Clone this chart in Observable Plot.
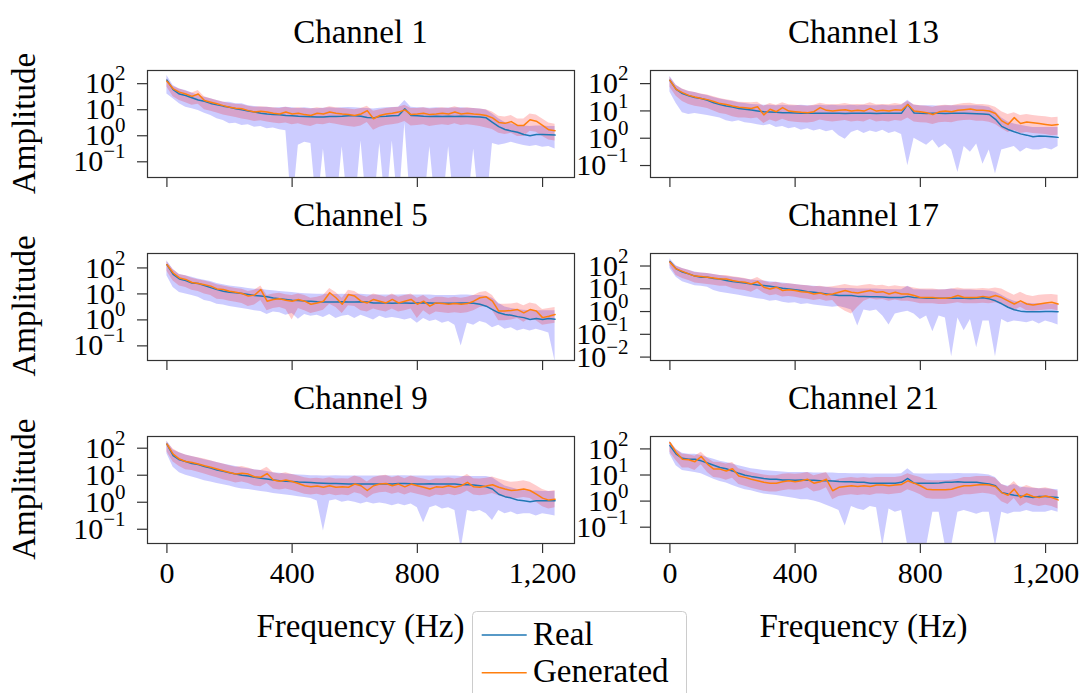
<!DOCTYPE html>
<html><head><meta charset="utf-8">
<script src="https://cdn.jsdelivr.net/npm/d3@7"></script>
<script src="https://cdn.jsdelivr.net/npm/@observablehq/plot@0.6"></script>
<style>
html,body{margin:0;padding:0;background:#fff;}
#root{position:relative;width:1083px;height:693px;overflow:hidden;}
#root svg{position:absolute;}
</style></head><body><div id="root"></div>
<script>
// ---- data ----
const freqs = [0,20,40,60,80,100,120,140,160,180,200,220,240,260,280,300,320,340,360,380,400,420,440,460,480,500,520,540,560,580,600,620,640,660,680,700,720,740,760,780,800,820,840,860,880,900,920,940,960,980,1000,1020,1040,1060,1080,1100,1120,1140,1160,1180,1200,1220,1240];
const xTicks = [0, 400, 800, 1200];
const yTicks4 = [0.1, 1, 10, 100];
const yTicks5 = [0.01, 0.1, 1, 10, 100];
const seriesNames = ["Real", "Generated"];
const seriesColors = ["#1f77b4", "#ff7f0e"];
const bandColors = ["blue", "red"];

// Channel 1
const ch1RealMean = [110,47,32,28,23,19,17,14,12.3,11, 10,8.7,7.9,7.1,6.5,5.9,5.5,5.2,5.1,4.8, 4.7,4.5,4.4,4.3,4.2,4.2,4.4,4.4,4.5,4.7, 4.7,4.5,4.0,3.9,4.4,4.5,4.7,4.8,8.7,4.8, 4.7,4.5,4.4,4.5,4.4,4.5,4.4,4.5,4.4,4.3, 4.2,3.9,2.6,1.8,1.4,1.23,1.1,0.89,0.81,0.89, 0.89,0.87,0.85];
const ch1RealLow = [32,21,13.5,10,8.7,7.4,5.9,4.8,3.6,3.1, 2.3,2.4,2.0,2.1,1.7,1.8,1.5,1.6,1.35,1.26, 0.001,0.35,0.45,0.4,0.001,0.25,0.001,0.001,0.3,0.001, 0.001,0.5,0.001,0.001,0.4,0.001,0.5,0.001,2.5,0.001, 0.001,0.001,0.3,0.001,0.001,0.3,0.001,0.001,0.001,0.25, 0.001,0.001,0.4,0.35,0.39,0.45,0.39,0.34,0.31,0.34, 0.29,0.31,0.25];
const ch1RealHigh = [165,68,50,44,35,28,24,21,18,15.5, 15.5,13.5,13.5,11.5,10.7,10,10,9.4,9.5,10, 9.5,9,9.5,9,8.8,9.2,9.5,9.2,9.5,9.8, 9.5,9.2,9,8.5,9.2,9.5,9.8,10,18,10, 9.6,9.5,9.2,9.5,9.2,9.4,9.3,9.5,9.2,9, 8.5,7.9,5.5,3.6,2.6,2.3,2.0,1.9,1.8,1.9, 1.9,1.8,1.8];
const ch1GenMean = [100,51,38,32,26,32,18,15.5,13.5,11.5, 10,9.1,8.7,7.4,6.5,7.0,6.5,5.9,5.5,6.5, 5.5,5.9,5.2,4.8,5.9,5.5,6.5,5.9,5.5,5.2, 4.8,5.5,7.4,3.6,4.8,5.5,5.9,6.5,7.9,5.2, 5.5,5.9,5.2,5.5,5.9,5.5,6.5,5.5,5.9,5.5, 5.2,4.8,3.9,2.6,2.4,2.8,2.0,2.0,3.3,2.9, 2.0,1.35,1.26];
const ch1GenLow = [60,25,18,15,12,13,8,7,6,5, 4.5,4,3.5,3.2,2.8,3,2.7,2.5,2.3,2.5, 2.1,2.3,2.0,1.8,2.2,2.1,2.4,2.2,2.0,1.8, 1.7,1.9,2.6,1.3,1.7,2.0,2.1,2.3,2.8,1.9, 2.0,2.1,1.8,2.0,2.1,2.0,2.3,2.0,2.1,2.0, 1.8,1.6,1.4,1.0,0.9,1.0,0.75,0.75,1.2,1.1, 0.75,0.55,0.5];
const ch1GenHigh = [123,62,50,42,35,44,25,21,18,16, 14,13,12.5,11,10,10.5,10,9.5,9,10, 9,9.5,9,8.5,9.5,9,10.5,9.5,9,8.5, 8,9,11,7,8,9,9.5,10,12,9, 9,9.5,8.5,9,9.5,9,10.5,9,9.5,9, 8.5,8,6.5,4.5,4.2,4.8,3.5,3.5,5.5,5, 3.5,2.5,2.2];

// Channel 13
const ch13RealMean = [107,50,35,29,25,23,20,16,14,12.3, 11.2,10,9.3,8.7,8.1,7.6,7.4,7.2,6.9,6.9, 6.8,6.7,6.6,6.7,6.6,6.6,6.7,6.6,6.5,6.7, 6.6,6.7,6.6,6.5,6.7,6.6,6.6,6.7,14,6.8, 6.6,6.5,6.6,6.6,6.5,6.6,6.7,6.6,6.5,6.4, 6.3,6.0,4.0,2.2,1.7,1.4,1.17,1.05,0.91,0.98, 0.95,0.91,0.87];
const ch13RealLow = [40,15,7,6,6.5,6,5.5,5,4.5,3.5, 3.2,3.5,3.0,2.8,2.5,2.3,2.6,2.0,2.2,1.8, 2.0,1.6,1.8,1.5,1.7,1.4,1.6,1.0,0.75,1.3, 1.6,1.2,1.5,1.3,1.6,1.2,1.4,1.1,0.08,0.8, 0.6,0.45,0.7,0.35,0.5,0.3,0.045,0.4,0.25,0.5, 0.09,0.3,0.04,0.3,0.35,0.4,0.25,0.35,0.3,0.3, 0.35,0.3,0.4];
const ch13RealHigh = [150,70,50,42,38,33,30,25,22,20, 18,16,15,14,13.5,13,13,12.5,13,12.5, 12.5,13,12.5,12.5,13,12.5,13,12.5,12.5,13, 12.5,13,12.5,12.5,13,12.5,12.5,13,20,13, 12.5,12.5,12.5,12,12.5,12.5,12.5,12.5,12.5,12.5, 12,11,7.5,4.5,3.2,2.7,2.4,2.2,2.0,2.0, 2.0,2.0,2.0];
const ch13GenMean = [107,50,38,30,26,23,21,18,15,14, 12.3,11,10.5,10,11.5,5.8,9.3,7.6,10.7,8, 7.6,7.2,7.0,7.6,10.7,8.5,8,8.5,9,8, 8.5,8,10,8,8.5,8,9,8.5,14,8, 7.5,7,6,7.5,8,7.5,8.5,9,9.5,8.5, 8.5,8,6.5,3.5,2.6,4.6,2.8,3.2,3.0,2.8, 2.6,2.4,2.6];
const ch13GenLow = [60,28,18,14,12,11,10,8,6.5,6, 5,4.5,4.5,4.2,4.5,2.8,3.8,3.2,4,3.3, 3.1,3,2.9,3.1,3.8,3.4,3.2,3.4,3.6,3.2, 3.4,3.2,3.9,3.2,3.4,3.2,3.6,3.4,4.5,3.2, 3.0,2.9,2.6,3.0,3.1,3.0,3.4,3.6,3.7,3.4, 3.4,3.1,2.6,1.8,1.3,1.6,1.2,1.3,1.2,1.15, 1.1,1.0,1.05];
const ch13GenHigh = [140,70,52,43,38,34,31,27,23,21, 19,17,16.5,16,17,12,15,13,16,13.5, 13,12.5,12,13,15.5,14,13.5,14,15,13.5, 14,13.5,16,13.5,14,13.5,15,14,18,13.5, 12.5,12,11,12.5,13,12.5,14,15,15.5,14, 14,13,11,7.5,6,7,5.5,6,5.5,5.2, 5,4.6,4.8];

// Channel 5
const ch5RealMean = [107,45,30,26,21,20,17,14,11.7,10.2, 9.3,8.9,8.3,7.6,6.9,6.6,6.2,5.6,5.2,4.9, 4.6,4.5,4.3,4.2,4.0,3.9,3.9,3.9,4.0,3.9, 3.9,4.0,3.9,3.6,3.6,3.6,3.5,3.6,3.6,3.5, 3.6,3.7,3.6,3.5,3.5,3.5,3.5,3.6,3.6,3.5, 3.2,2.7,2.0,1.5,1.3,1.2,1.07,0.98,0.83,0.9, 0.83,0.9,0.85];
const ch5RealLow = [40,14,9,8,7,6,4.5,4,3.2,3, 2.6,2.4,2.2,2.0,1.8,1.7,1.3,1.6,1.5,1.2, 1.4,0.85,1.3,1.1,1.2,1.0,1.3,0.9,1.1,1.2, 0.9,1.2,1.0,0.8,1.1,0.9,1.0,0.9,0.8,0.9, 0.6,0.9,0.7,0.8,0.6,0.7,0.5,0.08,0.6,0.5, 0.7,0.6,0.4,0.5,0.35,0.4,0.3,0.35,0.3,0.35, 0.3,0.25,0.02];
const ch5RealHigh = [150,70,45,40,35,30,27,24,20,18, 16,15,14,13,12,12,11,10.5,10,9.5, 9,8.5,8.2,8,7.8,7.8,7.8,7.6,7.8,7.6, 7.6,7.8,7.5,7.3,7.3,7.2,7.2,7.3,7.5,7.2, 7.2,7.3,7.2,7.0,7.0,7.0,7.0,7.2,7.2,7.0, 7.0,6.5,5.5,3.5,2.5,2.2,2.0,1.9,1.8,1.8, 1.8,1.8,1.8];
const ch5GenMean = [107,51,33,29,22,20,18,16,12.5,11.8, 10.2,9.3,8.3,6.6,7.2,11.8,4.2,4.9,5.2,4.6, 4.2,4.9,4.2,3.2,3.6,4.2,8.9,5.7,3.2,7.6, 6.6,4.2,3.6,4.9,4.2,3.6,4.9,3.6,4.2,4.9, 3.2,4.2,2.7,3.6,3.4,3.2,3.4,3.2,3.4,4.2, 5.7,6.2,4.2,1.75,1.75,1.85,2.0,1.5,2.0,1.75, 0.98,1.1,1.3];
const ch5GenLow = [60,25,16,14,11,10,8,7,5,4.8, 4.2,3.8,3.4,2.6,3.0,4.5,1.8,2.2,2.4,2.0, 0.8,2.2,1.8,1.4,1.6,1.9,3.2,2.4,1.4,2.8, 2.6,1.8,1.6,2.1,1.8,1.6,2.1,1.6,1.8,2.1, 0.9,1.8,1.2,1.6,1.5,1.4,1.5,1.4,1.5,1.8, 2.4,2.7,1.8,0.75,0.75,0.8,0.9,0.65,0.9,0.75, 0.5,0.55,0.6];
const ch5GenHigh = [140,70,45,40,32,28,25,22,18,16, 14.5,13,12,10,11,16,7,8,8.5,7.5, 7,8,7,5.5,6,7,13,9,5.5,11, 10,7,6,8,7,6,8,6,7,8, 5.5,7,4.8,6,6,5.5,6,5.5,6,7, 9,10,7,3.2,3.2,3.3,3.6,2.8,3.6,3.2, 2.0,2.2,2.4];

// Channel 17
const ch17RealMean = [123,58,42,35,28,25,25,22,21,18, 16,15,14,12.6,11.5,10.7,10,9.1,8.1,7.6, 7.1,6.5,5.8,5.5,5.1,4.6,4.2,3.9,3.9,3.9, 3.6,3.6,3.5,3.5,3.4,3.2,3.2,3.2,3.6,3.2, 3.1,3.0,3.0,3.0,3.0,3.0,3.0,3.0,2.9,3.0, 3.1,2.8,2.3,1.7,1.2,0.93,0.81,0.76,0.76,0.76, 0.79,0.79,0.76];
const ch17RealLow = [60,25,16,13,10.5,10,9,6.5,5.5,5, 4.5,4,3.6,3.2,2.8,2.6,2.2,2.4,2.0,1.8, 1.9,1.6,1.7,1.5,1.4,1.3,1.2,1.3,1.1,0.9, 0.18,0.9,0.8,0.9,0.5,0.2,0.6,0.7,0.8,0.6, 0.35,0.5,0.1,0.5,0.4,0.008,0.4,0.11,0.35,0.02, 0.3,0.3,0.008,0.35,0.25,0.3,0.28,0.25,0.3,0.22, 0.3,0.25,0.2];
const ch17RealHigh = [160,80,60,50,42,38,36,33,30,27, 25,23,21,19,18,17,16,15,14,13, 12,11,10.5,10,9.5,9,8.5,8,8,8, 7.5,7.5,7.5,7.5,7.3,7.2,7,7,10,7, 7,6.8,6.8,6.8,7,7.5,6.8,6.8,6.8,6.5, 6.5,6.2,5.5,4.0,2.8,2.2,1.9,1.8,1.7,1.7, 1.7,1.6,1.7];
const ch17GenMean = [115,58,45,35,28,27,25,23,21,21, 18,16,15,12.6,16,9.1,7.6,9.1,6.5,7.1, 6.5,5.8,5.5,4.6,5.1,4.2,4.6,5.5,6.5,5.5, 5.1,5.8,6.5,5.5,5.8,4.6,5.5,4.6,4.6,3.9, 3.2,3.2,3.2,3.0,3.0,3.2,3.9,3.2,3.2,3.2, 3.6,3.2,3.9,3.2,2.3,1.66,2.3,1.66,1.5,1.66, 1.84,1.97,1.66];
const ch17GenLow = [80,30,22,18,14,13,12,11,10,10, 8,7,6.5,5.5,7.5,5,3.8,4.2,3.4,3.6, 3.3,2.9,2.7,2.4,2.6,2.2,2.4,1.2,0.8,0.6, 1.2,2.2,2.8,2.5,2.6,2.2,2.5,2.2,2.2,2.0, 1.7,1.7,1.7,1.6,1.6,1.7,1.9,1.7,1.7,1.7, 1.8,1.7,1.9,1.6,1.2,0.85,1.2,0.85,0.8,0.85, 0.9,0.95,0.85];
const ch17GenHigh = [140,75,60,50,40,38,36,33,30,30, 26,24,22,19,24,17,14,15,12.5,13, 12,11,10.5,9.5,10,9,9.5,10.5,12,10.5, 10,11,12,10.5,11,9.5,10.5,9.5,9.5,8.5, 7.5,7.5,7.5,7,7,7.5,8.5,7.5,7.5,7.5, 8,7.5,8.5,7.5,5.5,4,5.5,4,3.6,4, 4.2,4.4,4];

// Channel 9
const ch9RealMean = [115,43,30,26,22,20,17,15,12.6,11.2, 10,8.9,8.1,7.6,6.8,6.3,5.9,5.4,5.0,4.8, 4.7,4.5,4.4,4.3,4.2,4.1,4.0,4.0,3.9,3.8, 3.8,3.8,3.8,3.8,3.8,3.9,3.8,4.0,4.0,3.9, 3.8,3.8,3.9,3.8,3.8,3.8,3.8,3.6,3.6,3.5, 3.3,3.0,2.5,1.6,1.3,1.15,0.98,0.92,0.85,0.92, 0.92,0.92,0.92];
const ch9RealLow = [50,16,10,8,7,6,5,4.5,4,3.6, 3.2,2.8,2.5,2.4,2.2,2.0,1.9,1.7,1.6,1.5, 1.4,1.3,1.2,1.1,0.9,0.07,0.9,1.0,0.8,0.9, 0.8,0.7,0.8,0.7,0.75,0.7,0.6,0.7,0.6,0.7, 0.5,0.14,0.5,0.6,0.45,0.5,0.4,0.015,0.4,0.35, 0.4,0.3,0.17,0.4,0.3,0.35,0.28,0.3,0.3,0.25, 0.3,0.28,0.25];
const ch9RealHigh = [150,70,55,45,40,35,30,27,24,21, 19,17,15,14,13,12,11,10,9.5,9, 8.5,8.2,8,7.8,7.8,7.6,7.6,7.8,7.6,7.5, 7.5,7.6,7.5,7.5,7.6,7.8,7.5,7.8,7.8,7.6, 7.5,7.5,7.6,7.5,7.5,7.5,7.5,7.3,7.3,7.2, 7.2,7.2,6.5,4.5,3.2,2.8,2.4,2.2,2.1,2.1, 2.0,2.0,2.0];
const ch9GenMean = [115,49,32,26,24,21,18,16,13.7,11.8, 10.2,8.9,9.5,8.9,7.1,6.8,9.3,5.4,4.8,5.4, 4.7,4.0,3.3,3.0,3.2,2.9,3.3,2.9,3.0,2.9, 3.8,3.3,2.2,3.3,3.8,4.0,3.3,3.8,3.0,3.8, 3.3,2.9,2.5,3.0,2.9,3.3,2.9,3.3,4.4,3.0, 2.9,3.2,3.6,2.9,2.5,2.2,2.3,2.5,2.2,1.6, 1.15,0.97,1.05];
const ch9GenLow = [60,25,17,13,12,10.5,9,7.5,6.5,5.5, 4.8,4.2,4.5,4,3.2,3,4,2.5,2.3,2.5, 2.2,1.9,1.6,1.5,1.6,1.4,1.6,1.4,1.5,1.4, 1.8,1.6,1.1,1.6,1.8,1.9,1.6,1.8,1.5,1.8, 1.6,1.4,1.2,1.5,1.4,1.6,1.4,1.6,2.1,1.5, 1.4,1.5,1.7,1.4,1.2,1.1,1.1,1.2,1.1,0.8, 0.55,0.45,0.5];
const ch9GenHigh = [140,75,55,45,40,36,32,28,24,21, 18,16,17,15,12.5,12,16,10,9,10, 8.5,7.5,6.5,6,6.3,5.8,6.5,5.8,6,5.8, 7.5,6.5,4.5,6.5,7.5,8,6.5,7.5,6,7.5, 6.5,5.8,5,6,5.8,6.5,5.8,6.5,8.5,6, 5.8,6.3,7,5.8,5,4.4,4.6,5,4.4,3.3, 2.4,2.0,2.2];

// Channel 21
const ch21RealMean = [107,51,35,32,32,28,23,19,15.5,14, 11.5,9.3,7.9,7.1,6.5,5.9,5.5,5.5,5.2,5.2, 5.1,5.2,5.1,5.0,4.8,4.8,4.7,4.5,4.4,4.4, 4.2,4.2,3.9,3.9,3.9,3.9,3.9,4.2,5.9,3.9, 3.9,3.9,3.9,4.0,4.2,4.2,4.4,4.2,4.2,4.2, 3.9,3.6,3.1,1.7,1.5,1.35,1.26,1.2,1.1,1.2, 1.2,1.15,1.1];
const ch21RealLow = [50,18,12,11,10,9,7,5.5,4.5,4.0, 3.2,2.6,2.2,2.0,1.7,1.5,1.4,1.3,1.2,1.1, 1.0,0.9,0.9,0.8,0.7,0.55,0.45,0.35,0.09,0.5, 0.4,0.35,0.5,0.45,0.015,0.4,0.3,0.35,0.015,0.015, 0.015,0.015,0.3,0.3,0.015,0.015,0.3,0.35,0.3,0.25, 0.3,0.3,0.015,0.3,0.25,0.3,0.3,0.35,0.3,0.3, 0.3,0.35,0.3];
const ch21RealHigh = [160,75,55,50,50,45,38,32,27,24, 21,18,16,14,13,12,11.5,11,10.5,10, 10,10,10,9.5,9.5,9.5,9.5,9.2,9.2,9, 9,9,8.8,8.8,8.8,8.8,8.8,9,14,9, 8.8,8.8,8.8,9,9,9,9.2,9,9,9, 8.5,8,6.5,3.5,3,3.5,2.8,2.6,2.5,2.4, 2.4,2.3,2.2];
const ch21GenMean = [140,59,32,31,26,41,21,13.5,13.5,11.5, 14,7.4,6.5,5.5,4.8,4.2,3.9,3.9,4.4,4.8, 4.4,4.8,5.5,3.9,4.4,5.5,2.0,2.7,2.9,3.1, 2.9,3.1,2.9,3.3,3.3,3.1,3.3,3.5,4.8,3.9, 3.1,2.3,2.2,2.2,2.2,2.3,2.7,3.1,3.1,3.3, 3.5,3.3,2.9,1.7,1.35,2.3,1.1,1.5,1.2,1.1, 1.26,1.1,0.89];
const ch21GenLow = [60,28,15,15,12,20,10,6.5,6,5, 6,3.5,3,2.5,2.2,1.9,1.8,1.8,2,2.2, 2.1,2.2,2.6,1.8,2.0,2.6,0.9,1.2,1.3,1.4, 1.3,1.4,1.3,1.5,1.5,1.4,1.5,1.6,2.2,1.8, 1.4,1.0,0.95,0.95,0.95,1.0,1.2,1.4,1.4,1.5, 1.6,1.5,1.3,0.75,0.6,1.0,0.5,0.7,0.55,0.5, 0.55,0.5,0.4];
const ch21GenHigh = [150,80,50,48,42,60,35,25,24,21, 24,14,12,10,9,8,7.5,7.5,8.5,9, 8.5,9,10,7.5,8.5,10,4.5,5.5,6,6.5, 6,6.5,6,6.5,6.5,6.5,6.5,7,9,7.5, 6.5,5,4.8,4.8,4.8,5,5.5,6.5,6.5,7, 7,7,6,3.5,2.8,4.5,2.5,3.2,2.6,2.4, 2.6,2.3,1.9];

// y-axis limits of each panel (as drawn)
const yDomainCh1 = [0.020, 257];
const yDomainCh13 = [0.0295, 245];
const yDomainCh5 = [0.0219, 288];
const yDomainCh17 = [0.0055, 275];
const yDomainCh9 = [0.024, 219];
const yDomainCh21 = [0.019, 240];

// ---- layout ----
const colLeft = [147, 650];
const rowTop = [70, 252.5, 435.7];
const frameW = 427, frameH = 107;
const ML = 140, MR = 20, MT = 10;
const FONT = '"Liberation Serif", "Times New Roman", serif';

const panels = [
  {title: "Channel 1",  col: 0, row: 0, rm: ch1RealMean,  rl: ch1RealLow,  rh: ch1RealHigh,  gm: ch1GenMean,  gl: ch1GenLow,  gh: ch1GenHigh,  domain: yDomainCh1,  ticks: yTicks4},
  {title: "Channel 13", col: 1, row: 0, rm: ch13RealMean, rl: ch13RealLow, rh: ch13RealHigh, gm: ch13GenMean, gl: ch13GenLow, gh: ch13GenHigh, domain: yDomainCh13, ticks: yTicks4},
  {title: "Channel 5",  col: 0, row: 1, rm: ch5RealMean,  rl: ch5RealLow,  rh: ch5RealHigh,  gm: ch5GenMean,  gl: ch5GenLow,  gh: ch5GenHigh,  domain: yDomainCh5,  ticks: yTicks4},
  {title: "Channel 17", col: 1, row: 1, rm: ch17RealMean, rl: ch17RealLow, rh: ch17RealHigh, gm: ch17GenMean, gl: ch17GenLow, gh: ch17GenHigh, domain: yDomainCh17, ticks: yTicks5},
  {title: "Channel 9",  col: 0, row: 2, rm: ch9RealMean,  rl: ch9RealLow,  rh: ch9RealHigh,  gm: ch9GenMean,  gl: ch9GenLow,  gh: ch9GenHigh,  domain: yDomainCh9,  ticks: yTicks4},
  {title: "Channel 21", col: 1, row: 2, rm: ch21RealMean, rl: ch21RealLow, rh: ch21RealHigh, gm: ch21GenMean, gl: ch21GenLow, gh: ch21GenHigh, domain: yDomainCh21, ticks: yTicks4}
];

const root = document.getElementById("root");
const svgNS = "http://www.w3.org/2000/svg";

function superscriptTicks(svg) {
  svg.querySelectorAll("text").forEach(t => {
    const m = /^10\^(-?\d+)$/.exec(t.textContent);
    if (!m) return;
    t.textContent = "10";
    const ts = document.createElementNS(svgNS, "tspan");
    ts.setAttribute("dy", "-13");
    ts.style.fontSize = "21px";
    ts.textContent = m[1].replace("-", "\u2212");
    t.appendChild(ts);
  });
}

for (const p of panels) {
  const bottom = p.row === 2;
  const MB = bottom ? 60 : 20;
  const rows = freqs.map((f, i) => ({f, rm: p.rm[i], rl: p.rl[i], rh: p.rh[i], gm: p.gm[i], gl: p.gl[i], gh: p.gh[i]}));
  const chart = Plot.plot({
    width: frameW + ML + MR,
    height: frameH + MT + MB,
    marginLeft: ML, marginRight: MR, marginTop: MT, marginBottom: MB,
    style: {background: "transparent", overflow: "visible", fontFamily: FONT, fontSize: "30px", color: "black"},
    x: {domain: [-62, 1302], label: null},
    y: {type: "log", domain: p.domain, label: null},
    marks: [
      Plot.areaY(rows, {x: "f", y1: "rl", y2: "rh", fill: bandColors[0], fillOpacity: 0.2, clip: true}),
      Plot.areaY(rows, {x: "f", y1: "gl", y2: "gh", fill: bandColors[1], fillOpacity: 0.2, clip: true}),
      Plot.line(rows, {x: "f", y: "rm", stroke: seriesColors[0], strokeWidth: 1.5, clip: true}),
      Plot.line(rows, {x: "f", y: "gm", stroke: seriesColors[1], strokeWidth: 1.5, clip: true}),
      Plot.frame({stroke: "#333", strokeWidth: 1.2}),
      Plot.axisX({ticks: xTicks, tickSize: 10, tickPadding: 8, label: null, stroke: "#333", strokeWidth: 1.2, fill: "black",
        tickFormat: bottom ? d3.format(",") : () => ""}),
      Plot.axisY({ticks: p.ticks, tickSize: 10, tickPadding: 12, label: null, stroke: "#333", strokeWidth: 1.2, fill: "black", dy: 2.5,
        tickFormat: d => "10^" + Math.round(Math.log10(d))})
    ]
  });
  superscriptTicks(chart);
  chart.style.left = (colLeft[p.col] - ML) + "px";
  chart.style.top = (rowTop[p.row] - MT) + "px";
  root.appendChild(chart);
}

// ---- titles, axis labels, legend ----
const ov = d3.select(root).append("svg")
  .attr("width", 1083).attr("height", 693)
  .style("left", "0px").style("top", "0px")
  .style("font-family", FONT).style("font-size", "33px");

const colCenter = colLeft.map(l => l + frameW / 2);
for (const p of panels) {
  ov.append("text").attr("x", colCenter[p.col]).attr("y", rowTop[p.row] - 27)
    .attr("text-anchor", "middle").text(p.title);
}
for (const r of [0, 1, 2]) {
  ov.append("text").attr("transform", `translate(35,${rowTop[r] + frameH / 2}) rotate(-90)`)
    .attr("text-anchor", "middle").text("Amplitude");
}
for (const c of [0, 1]) {
  ov.append("text").attr("x", colCenter[c]).attr("y", 637).attr("text-anchor", "middle").text("Frequency (Hz)");
}
const lg = ov.append("g");
lg.append("rect").attr("x", 472.5).attr("y", 611.5).attr("width", 214).attr("height", 100).attr("rx", 4)
  .attr("fill", "white").attr("fill-opacity", 0.8).attr("stroke", "#cccccc");
seriesNames.forEach((name, i) => {
  const yl = [635, 672.7][i];
  lg.append("line").attr("x1", 481.7).attr("x2", 526.7).attr("y1", yl).attr("y2", yl)
    .attr("stroke", seriesColors[i]).attr("stroke-width", 1.5);
  lg.append("text").attr("x", 533).attr("y", [645, 682][i]).text(name);
});
</script></body></html>
